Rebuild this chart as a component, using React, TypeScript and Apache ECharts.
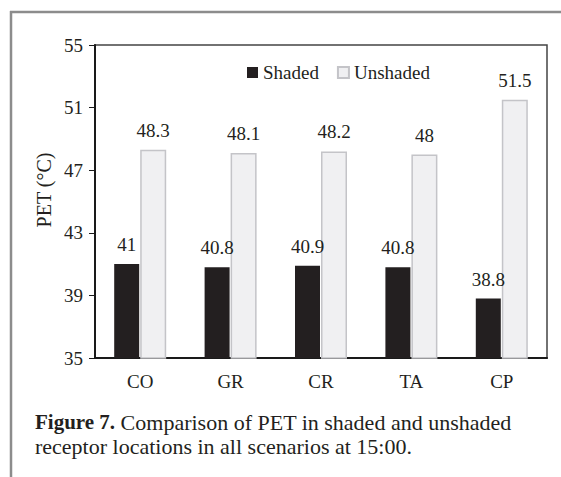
import React, { useEffect, useRef } from "react";
import * as echarts from "echarts";

const categories = ["CO", "GR", "CR", "TA", "CP"];
const shaded = [41, 40.8, 40.9, 40.8, 38.8];
const unshaded = [48.3, 48.1, 48.2, 48, 51.5];
const yTicks = [35, 39, 43, 47, 51, 55];

const FONT = "'Liberation Serif', 'Times New Roman', serif";
const TXT = "#231f20";

export default function App() {
  const ref = useRef<HTMLDivElement>(null);
  useEffect(() => {
    if (!ref.current) return;
    const chart = echarts.init(ref.current, null, { renderer: "svg" });
    chart.setOption({
      animation: false,
      backgroundColor: "#ffffff",
      textStyle: { fontFamily: FONT, color: TXT },
      grid: {
        left: 95,
        top: 45,
        right: 14,
        bottom: 119,
        show: true,
        borderColor: "#444",
        borderWidth: 1.5,
        backgroundColor: "transparent",
      },
      legend: {
        top: 58,
        left: 242,
        itemWidth: 11,
        itemHeight: 11,
        itemGap: 18,
        icon: "rect",
        textStyle: { fontFamily: FONT, fontSize: 19, color: TXT },
        data: ["Shaded", "Unshaded"],
      },
      xAxis: {
        type: "category",
        data: categories,
        axisLine: { show: true, lineStyle: { color: "#1a1a1a", width: 2 } },
        axisTick: { show: false },
        axisLabel: { fontFamily: FONT, fontSize: 19, color: TXT, margin: 14 },
      },
      yAxis: {
        type: "value",
        min: yTicks[0],
        max: yTicks[yTicks.length - 1],
        interval: 4,
        splitLine: { show: false },
        axisLine: { show: true, lineStyle: { color: "#1a1a1a", width: 2 } },
        axisTick: { show: true, length: 6, lineStyle: { color: "#1a1a1a", width: 1 } },
        axisLabel: { fontFamily: FONT, fontSize: 19, color: TXT, margin: 12 },
      },
      series: [
        {
          name: "Shaded",
          type: "bar",
          data: shaded,
          barWidth: 25,
          barGap: "4%",
          itemStyle: { color: "#231f20" },
          label: { show: true, position: "top", distance: 10, fontFamily: FONT, fontSize: 19, color: TXT },
        },
        {
          name: "Unshaded",
          type: "bar",
          data: unshaded,
          barWidth: 26,
          itemStyle: { color: "#f0f0f2", borderColor: "#c4c4c8", borderWidth: 1.5 },
          label: { show: true, position: "top", distance: 10, fontFamily: FONT, fontSize: 19, color: TXT },
        },
      ],
      graphic: [
        { type: "line", shape: { x1: 10, y1: 12, x2: 561, y2: 12 }, style: { stroke: "#8c8c8c", lineWidth: 2.5 } },
        { type: "line", shape: { x1: 11, y1: 11, x2: 11, y2: 477 }, style: { stroke: "#8c8c8c", lineWidth: 2.5 } },
        {
          type: "text",
          x: 44,
          y: 190,
          rotation: Math.PI / 2,
          style: {
            text: "PET (°C)",
            fontFamily: FONT,
            fontSize: 20,
            fill: TXT,
            align: "center",
            verticalAlign: "middle",
          },
        },
        {
          type: "text",
          x: 35,
          y: 410,
          style: {
            text: "{b|Figure 7.} Comparison of PET in shaded and unshaded\nreceptor locations in all scenarios at 15:00.",
            fontFamily: FONT,
            fontSize: 22,
            lineHeight: 24,
            fill: TXT,
            rich: {
              b: { fontFamily: FONT, fontSize: 21, fontWeight: "bold", fill: TXT, lineHeight: 24 },
            },
          },
        },
      ],
    });
    return () => chart.dispose();
  }, []);
  return (
    <div
      ref={ref}
      style={{ position: "fixed", left: 0, top: 0, width: 561, height: 477, background: "#fff" }}
    />
  );
}
